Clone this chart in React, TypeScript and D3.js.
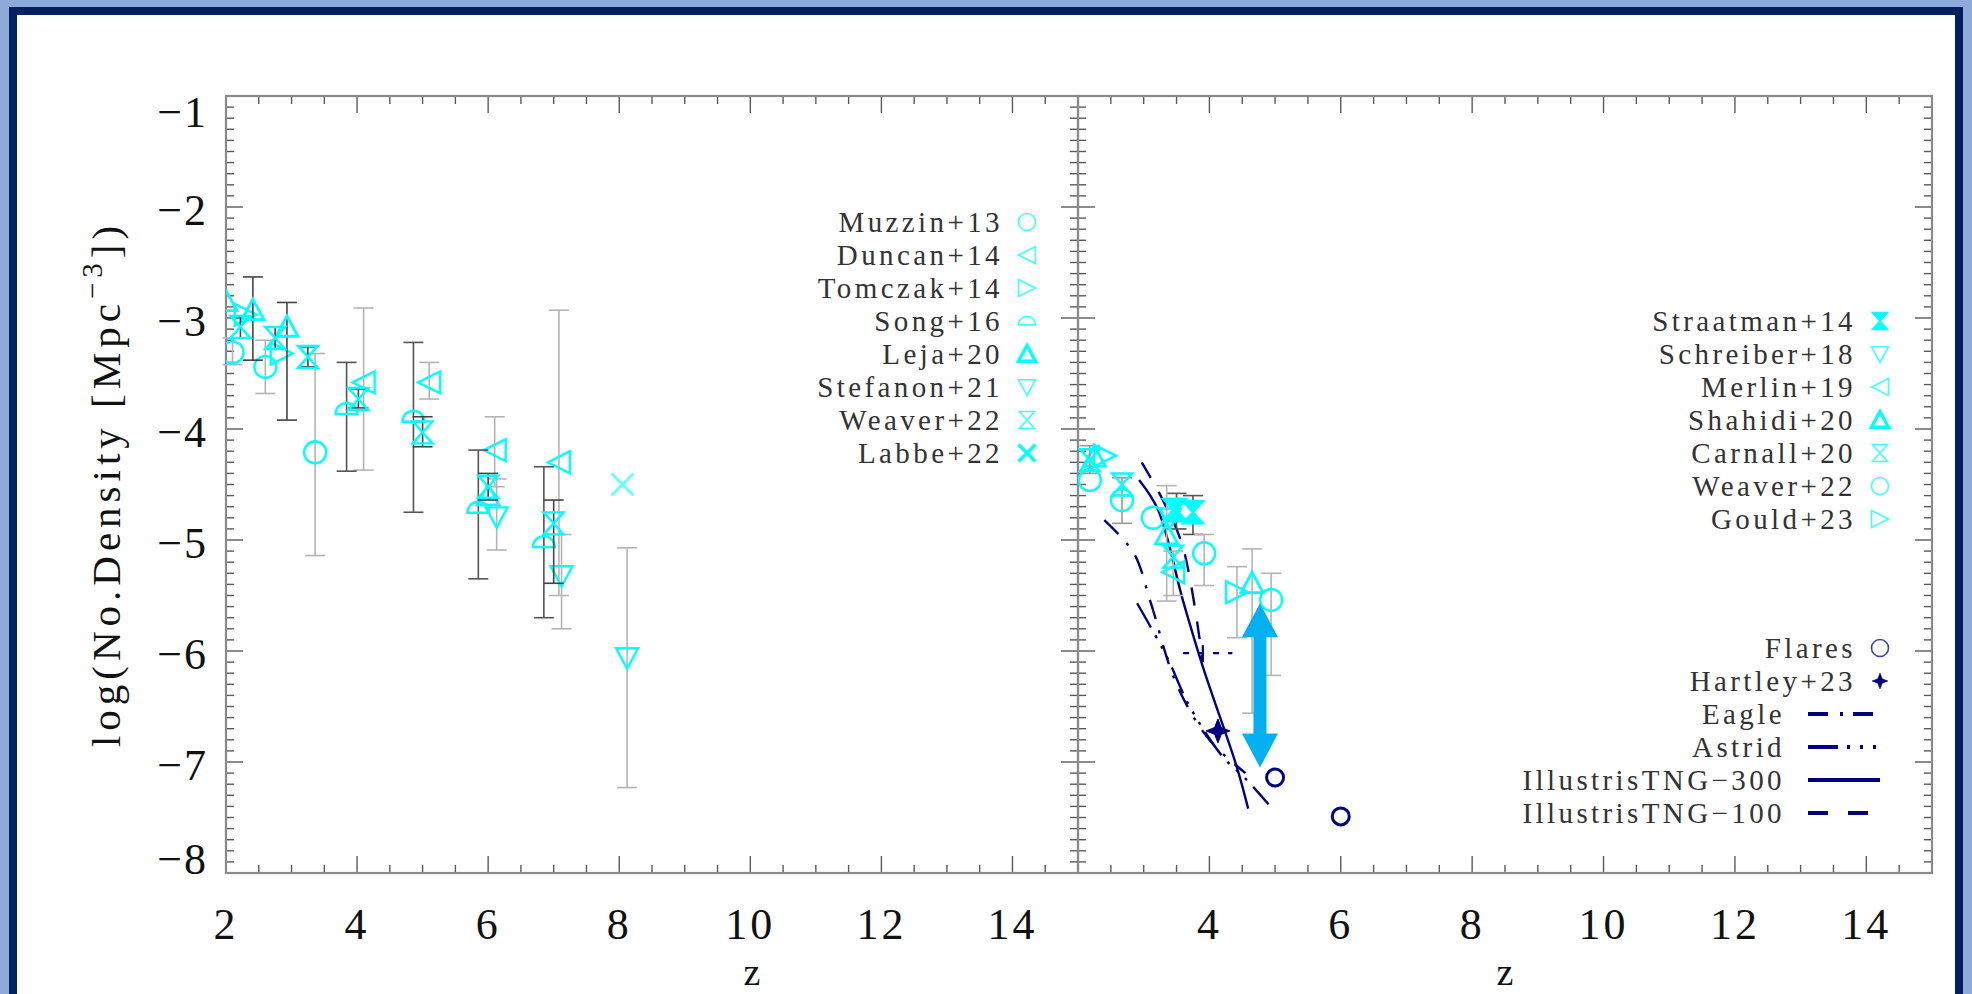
import React from "react";
import * as d3 from "d3";

// [z, logN, errTop, errBottom]
type Pt = [number, number, number | null, number | null];

// ---- left panel: observations ----
const muzzin13: Pt[] = [[2.1, -3.31, -3.18, -3.42], [2.6, -3.44, -3.2, -3.68], [3.36, -4.21, -3.32, -5.14]];
const duncan14: Pt[] = [[4.1, -3.58, -2.91, -4.37], [5.1, -3.58, -3.4, -3.73], [6.1, -4.19, -3.89, -4.52], [7.08, -4.3, -2.93, -5.5]];
const tomczak14: Pt[] = [[2.3, -2.97, null, null], [2.85, -3.32, null, null]];
const song16: Pt[] = [[3.84, -3.82, -3.4, -4.38], [4.86, -3.89, -3.22, -4.75], [5.85, -4.71, -4.19, -5.35], [6.85, -5.02, -4.34, -5.7]];
const leja20: Pt[] = [[2.0, -2.85, null, null], [2.41, -2.93, -2.63, -3.38], [2.93, -3.08, -2.86, -3.92], [6.0, -4.6, null, null]];
const stefanon21: Pt[] = [[6.13, -4.79, -4.45, -5.09], [7.12, -5.32, -4.95, -5.8], [8.12, -6.06, -5.07, -7.23]];
const weaver22L: Pt[] = [[2.22, -3.08, -2.98, -3.18], [2.75, -3.18, -3.08, -3.28], [3.25, -3.35, -3.26, -3.44], [4.02, -3.73, -3.64, -3.81], [5.0, -4.03, -3.89, -4.16], [6.0, -4.52, -4.4, -4.64], [7.0, -4.85, -4.64, -5.39]];
const labbe22: Pt[] = [[8.05, -4.5, null, null]];

// ---- right panel: observations ----
const straatman14: Pt[] = [[3.5, -4.73, -4.58, -4.9], [3.75, -4.75, -4.6, -4.95]];
const schreiber18: Pt[] = [[3.4, -4.8, null, null]];
const merlin19: Pt[] = [[3.45, -5.29, -5.1, -5.5]];
const shahidi20: Pt[] = [[2.25, -4.25, null, null], [3.35, -4.95, -4.51, -5.55], [4.65, -5.39, -5.08, -6.56]];
const carnall20: Pt[] = [[2.18, -4.28, -4.15, -4.4], [2.67, -4.5, -4.44, -4.85], [3.45, -4.73, null, null], [3.45, -5.15, null, null]];
const weaver22R: Pt[] = [[2.18, -4.46, null, null], [2.67, -4.64, null, null], [3.14, -4.8, null, null], [3.92, -5.12, -4.95, -5.41], [4.94, -5.54, -5.3, -6.22]];
const gould23: Pt[] = [[2.41, -4.24, null, null], [4.42, -5.47, -5.24, -5.88]];
const flares: Pt[] = [[5, -7.14, null, null], [6, -7.49, null, null]];
const hartley23: Pt[] = [[4.13, -6.72, null, null]];
const hartleyBin = { z: 3.9, v: -6.02, zLo: 3.6, zHi: 4.35 };

// ---- right panel: simulations ----
const eagle: [number, number][] = [[2.4, -4.82], [2.85, -5.12], [3.1, -5.55], [3.5, -6.3], [4.0, -6.8], [4.55, -7.1]];
const astrid: [number, number][] = [[2.9, -5.57], [3.35, -6.05], [3.7, -6.5], [4.2, -6.95], [4.55, -7.15], [4.9, -7.38]];
const tng300: [number, number][] = [[2.93, -4.46], [3.22, -4.73], [3.6, -5.55], [3.9, -6.14], [4.42, -7.05], [4.59, -7.42]];
const tng100: [number, number][] = [[2.97, -4.3], [3.3, -4.65], [3.6, -5.07], [3.9, -6.1]];

const arrowZ = 4.77, arrowTop = -5.57, arrowBottom = -7.05;

const xTicksLeft = [2, 4, 6, 8, 10, 12, 14];
const xTicksRight = [4, 6, 8, 10, 12, 14];
const yTicks = [-1, -2, -3, -4, -5, -6, -7, -8];

const CYAN = "#00ffff";
const NAVY = "#000080";
const FONT = "'Liberation Serif', 'DejaVu Serif', serif";

type Sym = "circle" | "triL" | "triR" | "triU" | "triD" | "hour" | "half" | "cross" | "star";

function symPath(t: Sym, s: number): string {
  switch (t) {
    case "triL": return `M${-s},0L${s},${-s}L${s},${s}Z`;
    case "triR": return `M${s},0L${-s},${-s}L${-s},${s}Z`;
    case "triU": return `M0,${-s}L${s},${s * 0.85}L${-s},${s * 0.85}Z`;
    case "triD": return `M0,${s}L${s},${-s * 0.85}L${-s},${-s * 0.85}Z`;
    case "hour": return `M${-s * 0.9},${-s}H${s * 0.9}L${-s * 0.9},${s}H${s * 0.9}Z`;
    case "half": return `M${-s},${s * 0.45}A${s},${s} 0 0 1 ${s},${s * 0.45}Z`;
    case "cross": return `M${-s},${-s}L${s},${s}M${-s},${s}L${s},${-s}`;
    case "star": return `M0,${-s}L${s * 0.28},${-s * 0.28}L${s},0L${s * 0.28},${s * 0.28}L0,${s}L${-s * 0.28},${s * 0.28}L${-s},0L${-s * 0.28},${-s * 0.28}Z`;
    default: return "";
  }
}

function Marker({ t, x, y, s, color, sw, fill, opacity = 1 }: any) {
  if (t === "circle")
    return <circle cx={x} cy={y} r={s} fill={fill || "none"} stroke={color} strokeWidth={sw} opacity={opacity} />;
  return (
    <path d={symPath(t, s)} transform={`translate(${x},${y})`} fill={fill || "none"} stroke={color}
      strokeWidth={sw} strokeLinejoin="miter" opacity={opacity} />
  );
}

interface Series { name: string; data: Pt[]; sym: Sym; bar: string; fill?: string; color?: string; bold?: boolean; light?: boolean }

const leftSeries: Series[] = [
  { name: "Muzzin+13", data: muzzin13, sym: "circle", bar: "#b4b4b4" },
  { name: "Duncan+14", data: duncan14, sym: "triL", bar: "#b4b4b4" },
  { name: "Tomczak+14", data: tomczak14, sym: "triR", bar: "#b4b4b4" },
  { name: "Song+16", data: song16, sym: "half", bar: "#555" },
  { name: "Leja+20", data: leja20, sym: "triU", bar: "#444", bold: true },
  { name: "Stefanon+21", data: stefanon21, sym: "triD", bar: "#b4b4b4" },
  { name: "Weaver+22", data: weaver22L, sym: "hour", bar: "#444" },
  { name: "Labbe+22", data: labbe22, sym: "cross", bar: "#444", bold: true, light: true },
];

const rightSeries: Series[] = [
  { name: "Straatman+14", data: straatman14, sym: "hour", bar: "#555", fill: CYAN },
  { name: "Schreiber+18", data: schreiber18, sym: "triD", bar: "#b4b4b4" },
  { name: "Merlin+19", data: merlin19, sym: "triL", bar: "#b4b4b4" },
  { name: "Shahidi+20", data: shahidi20, sym: "triU", bar: "#b4b4b4", bold: true },
  { name: "Carnall+20", data: carnall20, sym: "hour", bar: "#999" },
  { name: "Weaver+22", data: weaver22R, sym: "circle", bar: "#b4b4b4" },
  { name: "Gould+23", data: gould23, sym: "triR", bar: "#b4b4b4" },
];

const simSeries = [
  { name: "Eagle", data: eagle, dash: "20 12 3 12", legendDash: "20 12 3 10" },
  { name: "Astrid", data: astrid, dash: "28 9 3 9 3 9 3 9", legendDash: "30 9 3 10 3 10 3 10" },
  { name: "IllustrisTNG\u2212300", data: tng300, dash: "none", legendDash: "none" },
  { name: "IllustrisTNG\u2212100", data: tng100, dash: "18 16", legendDash: "20 20" },
];

const Y0 = 96, Y1 = 873;

function Axes({ x, labels, clipId }: { x: d3.ScaleLinear<number, number>; labels: number[]; clipId: string }) {
  const y = d3.scaleLinear().domain([-8, -1]).range([Y1, Y0]);
  const [xa, xb] = x.range();
  const xMinor = d3.range(2, 15.001, 0.5);
  const yMinor = d3.range(-8, -0.999, 0.1).map((v) => Math.round(v * 10) / 10);
  const tk = "#5a5a5a";
  return (
    <g>
      <clipPath id={clipId}><rect x={xa} y={Y0} width={xb - xa} height={Y1 - Y0} /></clipPath>
      {xMinor.map((z) => {
        const major = Math.abs(z % 2) < 1e-6;
        const L = major ? 17 : 8;
        const px = x(z);
        return (
          <g key={"x" + z}>
            <line x1={px} x2={px} y1={Y1} y2={Y1 - L} stroke={tk} strokeWidth={1.4} />
            <line x1={px} x2={px} y1={Y0} y2={Y0 + L} stroke={tk} strokeWidth={1.4} />
          </g>
        );
      })}
      {yMinor.map((v) => {
        const major = Math.abs(v - Math.round(v)) < 1e-6;
        const L = major ? 17 : 8;
        const py = y(v);
        return (
          <g key={"y" + v}>
            <line x1={xa} x2={xa + L} y1={py} y2={py} stroke={tk} strokeWidth={1.4} />
            <line x1={xb} x2={xb - L} y1={py} y2={py} stroke={tk} strokeWidth={1.4} />
          </g>
        );
      })}
      <rect x={xa} y={Y0} width={xb - xa} height={Y1 - Y0} fill="none" stroke="#8a8a8a" strokeWidth={2.2} />
      {labels.map((z) => (
        <text key={"xl" + z} x={x(z)} y={939} textAnchor="middle"
          fontFamily={FONT} fontSize={44} letterSpacing={3} fill="#111">{z}</text>
      ))}
    </g>
  );
}

function Points({ s, x, y, clip }: { s: Series; x: any; y: any; clip: string }) {
  return (
    <g>
      <g>
        {s.data.filter((d) => d[2] !== null).map((d, i) => {
          const px = x(d[0]);
          return (
            <g key={i} stroke={s.bar} strokeWidth={1.6}>
              <line x1={px} x2={px} y1={y(d[2] as number)} y2={y(d[3] as number)} />
              <line x1={px - 10} x2={px + 10} y1={y(d[2] as number)} y2={y(d[2] as number)} />
              <line x1={px - 10} x2={px + 10} y1={y(d[3] as number)} y2={y(d[3] as number)} />
            </g>
          );
        })}
      </g>
      <g clipPath={`url(#${clip})`}>
        {s.data.map((d, i) => (
          <Marker key={i} t={s.sym} x={x(d[0])} y={y(d[1])} s={11} color={s.color || CYAN}
            sw={s.bold ? 2.8 : 2.4} fill={s.fill} opacity={s.light ? 0.6 : 1} />
        ))}
      </g>
    </g>
  );
}

export default function App() {
  const y = d3.scaleLinear().domain([-8, -1]).range([Y1, Y0]);
  const xL = d3.scaleLinear().domain([2, 15]).range([226, 1078]);
  const xR = d3.scaleLinear().domain([2, 15]).range([1078, 1932]);
  const line = d3.line<[number, number]>().x((d) => xR(d[0])).y((d) => y(d[1])).curve(d3.curveCatmullRom);

  const ax = xR(arrowZ), at = y(arrowTop), ab = y(arrowBottom);
  const hw = 18, hl = 34, sw = 6.5;
  const arrow = `M${ax},${at}L${ax + hw},${at + hl}L${ax + sw},${at + hl}L${ax + sw},${ab - hl}L${ax + hw},${ab - hl}L${ax},${ab}L${ax - hw},${ab - hl}L${ax - sw},${ab - hl}L${ax - sw},${at + hl}L${ax - hw},${at + hl}Z`;

  const legRow = 33;
  const legText = { fontFamily: FONT, fontSize: 29, letterSpacing: 3.4, fill: "#333" };

  return (
    <svg width={1972} height={994} style={{ position: "absolute", left: 0, top: 0 }}>
      <rect x={0} y={0} width={1972} height={994} fill="#8eaadb" />
      <rect x={9} y={7} width={1954} height={1000} fill="#002060" />
      <rect x={17} y={15} width={1938} height={1000} fill="#ffffff" />

      <Axes x={xL} labels={xTicksLeft} clipId="clipL" />
      <Axes x={xR} labels={xTicksRight} clipId="clipR" />

      {yTicks.map((v) => {
        const cy = Math.max(Y0 + 17, Math.min(Y1 - 13, y(v) + 4));
        return (
          <text key={v} x={208} y={cy + 14} textAnchor="end" fontFamily={FONT} fontSize={44} letterSpacing={2} fill="#111">
            {"\u2212" + Math.abs(v)}
          </text>
        );
      })}

      <text transform="translate(106,484) rotate(-90)" textAnchor="middle" dominantBaseline="central"
        fontFamily={FONT} fontSize={41} letterSpacing={5} fill="#111">
        log(No.Density [Mpc<tspan fontSize={29} dy={-14}>{"\u22123"}</tspan><tspan dy={14}>])</tspan>
      </text>
      <text x={752} y={985} textAnchor="middle" fontFamily={FONT} fontSize={38} fill="#111">z</text>
      <text x={1505} y={985} textAnchor="middle" fontFamily={FONT} fontSize={38} fill="#111">z</text>

      {/* left observations */}
      {leftSeries.map((s) => <Points key={s.name} s={s} x={xL} y={y} clip="clipL" />)}

      {/* right panel simulations */}
      <g clipPath="url(#clipR)">
        {simSeries.map((s) => (
          <path key={s.name} d={line(s.data) || ""} fill="none" stroke={NAVY} strokeWidth={2.4}
            strokeDasharray={s.dash === "none" ? undefined : s.dash} />
        ))}
        <line x1={xR(hartleyBin.zLo)} x2={xR(hartleyBin.zHi)} y1={y(hartleyBin.v)} y2={y(hartleyBin.v)}
          stroke={NAVY} strokeWidth={2.2} strokeDasharray="6 9" />
        <line x1={xR(hartleyBin.z)} x2={xR(hartleyBin.z)} y1={y(hartleyBin.v) - 8} y2={y(hartleyBin.v) + 8} stroke={NAVY} strokeWidth={2.2} />
      </g>
      {rightSeries.map((s) => <Points key={s.name} s={s} x={xR} y={y} clip="clipR" />)}
      {flares.map((d, i) => (
        <Marker key={"f" + i} t="circle" x={xR(d[0])} y={y(d[1])} s={8.5} color={NAVY} sw={3} />
      ))}
      {hartley23.map((d, i) => (
        <Marker key={"h" + i} t="star" x={xR(d[0])} y={y(d[1])} s={12} color={NAVY} sw={1} fill={NAVY} />
      ))}
      <path d={arrow} fill="#00b0f0" />

      {/* left legend */}
      {leftSeries.map((s, i) => {
        const ly = 222 + i * legRow;
        return (
          <g key={"ll" + s.name}>
            <text x={1003} y={ly + 10} textAnchor="end" {...legText}>{s.name}</text>
            <Marker t={s.sym} x={1027} y={ly} s={8.5} color={CYAN} sw={s.bold ? 3.4 : 1.6} fill={s.fill} opacity={s.bold ? 1 : 0.75} />
          </g>
        );
      })}

      {/* right legend */}
      {rightSeries.map((s, i) => {
        const ly = 321 + i * legRow;
        return (
          <g key={"rl" + s.name}>
            <text x={1856} y={ly + 10} textAnchor="end" {...legText}>{s.name}</text>
            <Marker t={s.sym} x={1880} y={ly} s={8.5} color={CYAN} sw={s.bold ? 3.4 : 1.6} fill={s.fill} opacity={s.bold || s.fill ? 1 : 0.75} />
          </g>
        );
      })}
      <g>
        <text x={1856} y={658} textAnchor="end" {...legText}>Flares</text>
        <Marker t="circle" x={1880} y={648} s={8.5} color={NAVY} sw={1.6} opacity={0.75} />
        <text x={1856} y={691} textAnchor="end" {...legText}>Hartley+23</text>
        <Marker t="star" x={1880} y={681} s={8} color={NAVY} sw={0.5} fill={NAVY} />
        {simSeries.map((s, i) => {
          const ly = 714 + i * legRow;
          return (
            <g key={"sl" + s.name}>
              <text x={1785} y={ly + 10} textAnchor="end" {...legText}>{s.name}</text>
              <line x1={1808} x2={1880} y1={ly} y2={ly} stroke={NAVY} strokeWidth={4}
                strokeDasharray={s.legendDash === "none" ? undefined : s.legendDash} />
            </g>
          );
        })}
      </g>
    </svg>
  );
}
